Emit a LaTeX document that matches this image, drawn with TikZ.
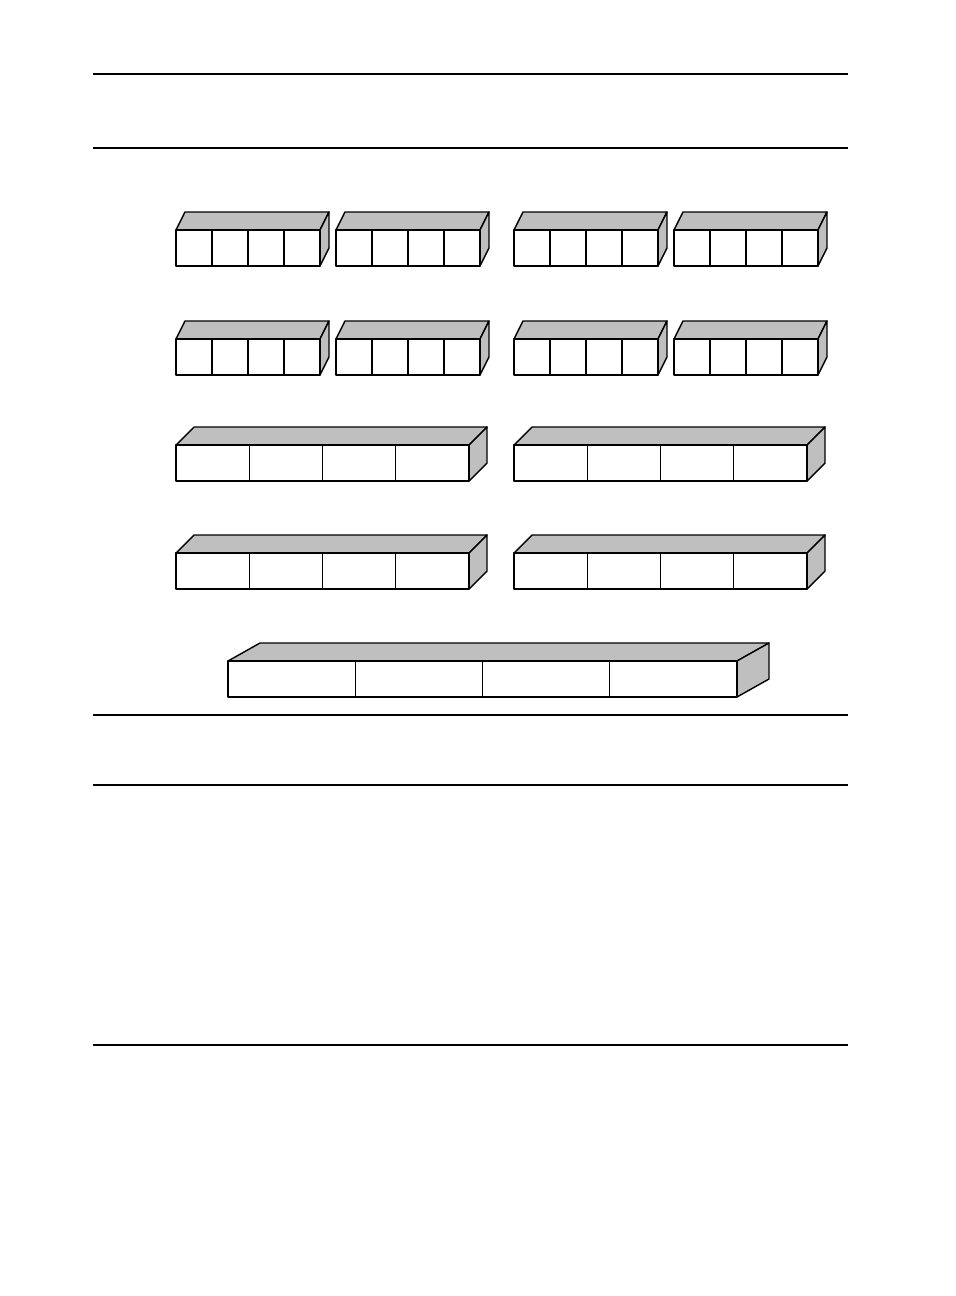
\documentclass[tikz,border=0pt]{standalone}
\usepackage{tikz}
\usetikzlibrary{calc}

\begin{document}
\begin{tikzpicture}[x=0.02cm, y=-0.02cm, line join=round]

        \useasboundingbox (0,0) rectangle (956,1296);

        \coordinate (ruleA) at (93,74);
        \coordinate (ruleB) at (93,148);
        \coordinate (ruleC) at (93,715);
        \coordinate (ruleD) at (93,785);
        \coordinate (ruleE) at (93,1045);

        \path[draw, line width=1.4pt] (ruleA) -- ++(755,0);
        \path[draw, line width=1.4pt] (ruleB) -- ++(755,0);
        \path[draw, line width=0.8pt] (ruleC) -- ++(755,0);
        \path[draw, line width=1.4pt] (ruleD) -- ++(755,0);
        \path[draw, line width=0.8pt] (ruleE) -- ++(755,0);

        \foreach \xa/\ya/\w/\dx in {176/230/144/9, 336/230/144/9, 514/230/144/9, 674/230/144/9,
                                    176/339/144/9, 336/339/144/9, 514/339/144/9, 674/339/144/9,
                                    176/445/293/18, 514/445/293/18,
                                    176/553/293/18, 514/553/293/18,
                                    228/661/509/32} {
            \path[draw, line width=0.8pt, fill=black!25] (\xa,\ya) -- ++(\dx,-18) -- ++(\w,0) -- ++(-\dx,18) -- cycle;
            \path[draw, line width=0.8pt, fill=black!25] (\xa+\w,\ya) -- ++(\dx,-18) -- ++(0,36) -- ++(-\dx,18) -- cycle;
            \path[draw, line width=0.8pt, fill=white] (\xa,\ya) rectangle ++(\w,36);
            \foreach \i in {1,2,3}
                \path[draw, line width=0.8pt] (\xa+\i*\w/4,\ya) -- ++(0,36);
        }

    \end{tikzpicture}
\end{document}
